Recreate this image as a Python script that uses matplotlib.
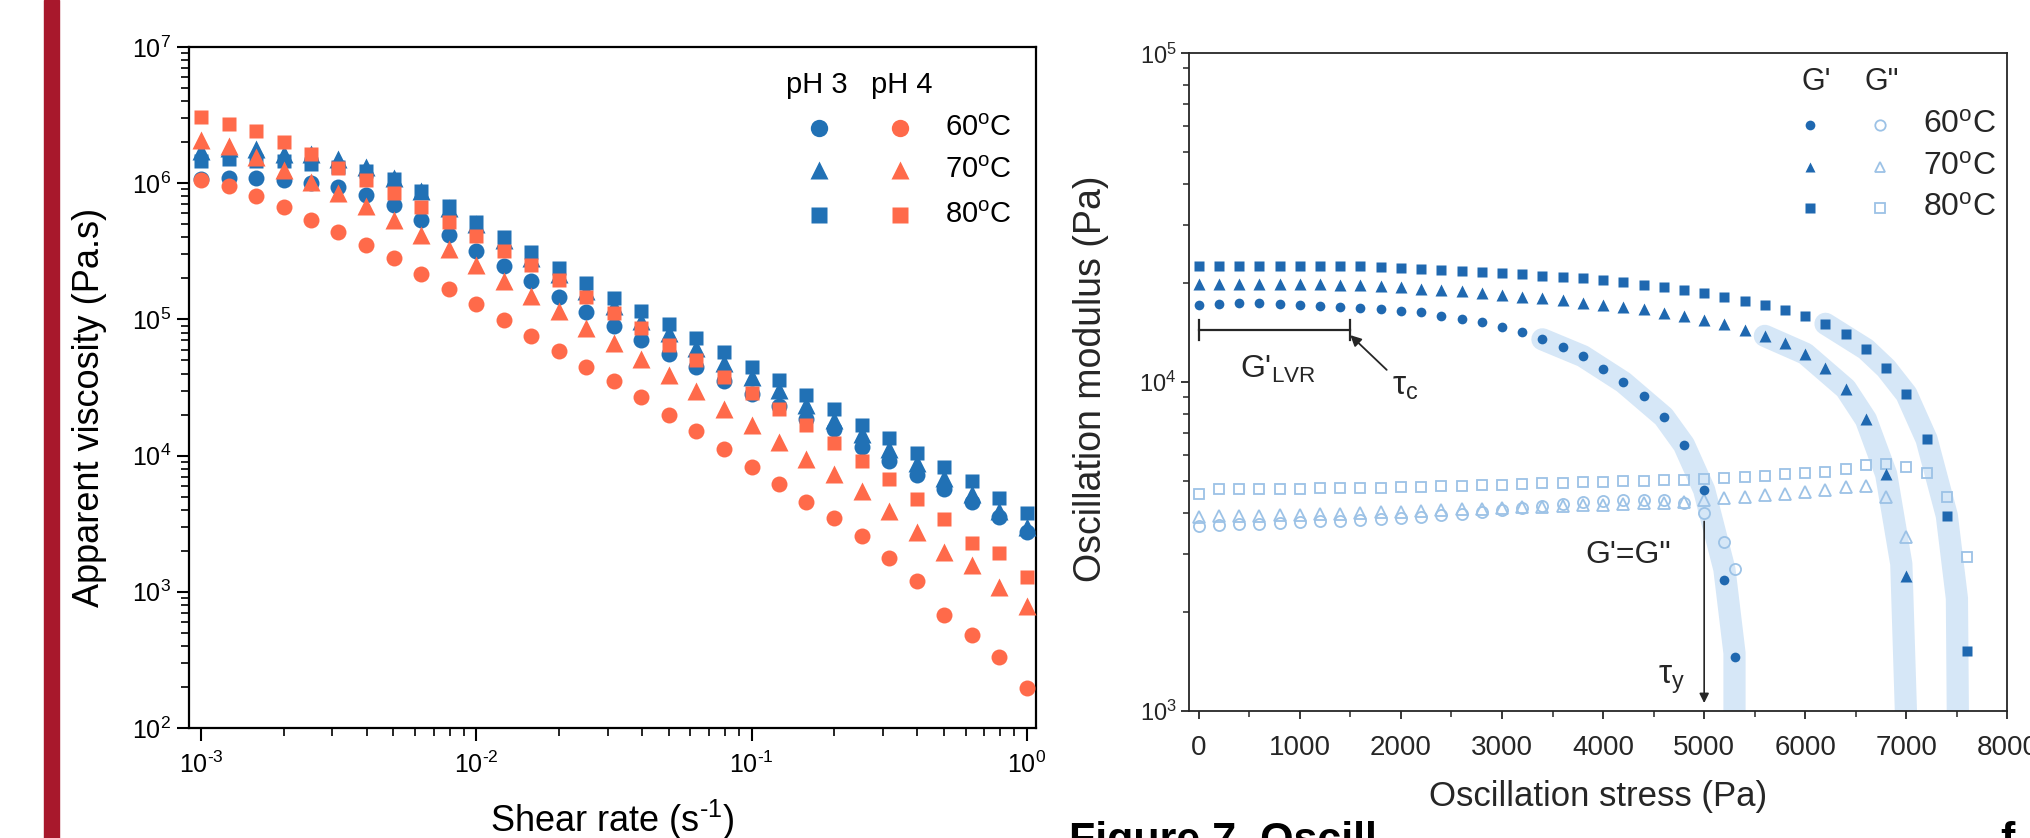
# -*- coding: utf-8 -*-
"""
Viscosidade aparente (esquerda) e varredura de tensao oscilatoria (direita).
"""
import math
import matplotlib
matplotlib.use('Agg')
import matplotlib.pyplot as plt
from matplotlib.patches import Rectangle
from matplotlib.ticker import MultipleLocator, LogLocator, NullFormatter, FuncFormatter

plt.rcParams['font.family'] = ['Liberation Sans', 'DejaVu Sans']
plt.rcParams['mathtext.fontset'] = 'custom'
plt.rcParams['mathtext.rm'] = 'Liberation Sans'
plt.rcParams['mathtext.it'] = 'Liberation Sans:italic'
plt.rcParams['mathtext.bf'] = 'Liberation Sans:bold'

# --- painel esquerdo: viscosidade x taxa de cisalhamento ---
shear_rate = [0.001, 0.00126, 0.00158, 0.002, 0.00251, 0.00316, 0.00398, 0.00501,
              0.00631, 0.00794, 0.01, 0.0126, 0.0158, 0.02, 0.0251, 0.0316, 0.0398,
              0.0501, 0.0631, 0.0794, 0.1, 0.126, 0.158, 0.2, 0.251, 0.316, 0.398,
              0.501, 0.631, 0.794, 1.0]

ph3_60 = [1.07e6, 1.09e6, 1.09e6, 1.05e6, 1.01e6, 9.4e5, 8.2e5, 6.9e5, 5.4e5, 4.2e5,
          3.2e5, 2.47e5, 1.91e5, 1.47e5, 1.14e5, 8.9e4, 7.0e4, 5.6e4, 4.5e4, 3.5e4,
          2.84e4, 2.3e4, 1.87e4, 1.58e4, 1.15e4, 9.1e3, 7.2e3, 5.7e3, 4.55e3, 3.55e3, 2.77e3]
ph3_70 = [1.72e6, 1.8e6, 1.78e6, 1.63e6, 1.63e6, 1.5e6, 1.32e6, 1.1e6, 8.7e5, 6.6e5,
          5.0e5, 3.8e5, 2.84e5, 2.14e5, 1.62e5, 1.25e5, 9.7e4, 8.0e4, 6.2e4, 4.8e4,
          3.8e4, 3.05e4, 2.37e4, 1.83e4, 1.43e4, 1.11e4, 8.8e3, 6.8e3, 5.2e3, 3.9e3, 3.0e3]
ph3_80 = [1.46e6, 1.5e6, 1.45e6, 1.45e6, 1.38e6, 1.32e6, 1.22e6, 1.07e6, 8.8e5, 6.8e5,
          5.2e5, 4.0e5, 3.1e5, 2.4e5, 1.86e5, 1.44e5, 1.15e5, 9.2e4, 7.3e4, 5.8e4,
          4.5e4, 3.6e4, 2.8e4, 2.18e4, 1.69e4, 1.35e4, 1.05e4, 8.3e3, 6.5e3, 4.9e3, 3.8e3]
ph4_60 = [1.06e6, 9.5e5, 8.0e5, 6.7e5, 5.4e5, 4.4e5, 3.5e5, 2.8e5, 2.17e5, 1.67e5,
          1.3e5, 9.9e4, 7.6e4, 5.9e4, 4.5e4, 3.5e4, 2.7e4, 2.0e4, 1.51e4, 1.11e4,
          8.3e3, 6.2e3, 4.6e3, 3.5e3, 2.56e3, 1.77e3, 1.21e3, 6.8e2, 4.8e2, 3.3e2, 1.97e2]
ph4_70 = [2.06e6, 1.88e6, 1.55e6, 1.26e6, 1.02e6, 8.5e5, 6.8e5, 5.4e5, 4.2e5, 3.3e5,
          2.5e5, 1.93e5, 1.49e5, 1.15e5, 8.7e4, 6.7e4, 5.1e4, 3.9e4, 2.96e4, 2.2e4,
          1.67e4, 1.25e4, 9.5e3, 7.3e3, 5.5e3, 3.9e3, 2.75e3, 1.97e3, 1.56e3, 1.08e3, 7.8e2]
ph4_80 = [3.06e6, 2.74e6, 2.42e6, 2.02e6, 1.64e6, 1.3e6, 1.06e6, 8.5e5, 6.7e5, 5.2e5,
          4.1e5, 3.2e5, 2.5e5, 1.95e5, 1.46e5, 1.12e5, 8.6e4, 6.5e4, 5.0e4, 3.8e4,
          2.9e4, 2.2e4, 1.67e4, 1.24e4, 9.1e3, 6.7e3, 4.8e3, 3.4e3, 2.3e3, 1.93e3, 1.28e3]

# --- painel direito: modulo x tensao oscilatoria ---
stress_60 = [0, 200, 400, 600, 800, 1000, 1200, 1400, 1600, 1800, 2000, 2200, 2400,
             2600, 2800, 3000, 3200, 3400, 3600, 3800, 4000, 4200, 4400, 4600, 4800,
             5000, 5200, 5300]
stress_70 = [0, 200, 400, 600, 800, 1000, 1200, 1400, 1600, 1800, 2000, 2200, 2400,
             2600, 2800, 3000, 3200, 3400, 3600, 3800, 4000, 4200, 4400, 4600, 4800,
             5000, 5200, 5400, 5600, 5800, 6000, 6200, 6400, 6600, 6800, 7000]
stress_80 = [0, 200, 400, 600, 800, 1000, 1200, 1400, 1600, 1800, 2000, 2200, 2400,
             2600, 2800, 3000, 3200, 3400, 3600, 3800, 4000, 4200, 4400, 4600, 4800,
             5000, 5200, 5400, 5600, 5800, 6000, 6200, 6400, 6600, 6800, 7000, 7200,
             7400, 7600]

g1_60 = [17200, 17300, 17350, 17350, 17300, 17200, 17000, 16950, 16800, 16700, 16500,
         16300, 15900, 15600, 15270, 14700, 14200, 13500, 12800, 12000, 11000, 10000,
         9050, 7850, 6450, 4700, 2500, 1460]
g1_70 = [19950, 19950, 19950, 19950, 19950, 19950, 19880, 19800, 19730, 19580, 19440,
         19230, 19010, 18870, 18670, 18460, 18200, 17980, 17730, 17470, 17220, 16970,
         16650, 16280, 15890, 15430, 14980, 14380, 13830, 13150, 12210, 11020, 9560,
         7700, 5250, 2570]
g1_80 = [22600, 22600, 22600, 22600, 22600, 22600, 22600, 22600, 22540, 22380, 22300,
         22130, 21970, 21720, 21560, 21480, 21320, 21080, 20930, 20700, 20400, 20100,
         19740, 19440, 19080, 18670, 18200, 17600, 17140, 16520, 15900, 15050, 14000,
         12600, 11020, 9200, 6700, 3930, 1520]
g2_60 = [3650, 3680, 3700, 3710, 3730, 3750, 3770, 3790, 3810, 3840, 3870, 3900, 3940,
         3980, 4030, 4080, 4140, 4200, 4260, 4310, 4350, 4380, 4390, 4370, 4300, 3990,
         3270, 2700]
g2_70 = [3900, 3910, 3920, 3930, 3940, 3950, 3960, 3980, 4000, 4020, 4040, 4060, 4080,
         4100, 4120, 4140, 4160, 4180, 4200, 4220, 4240, 4260, 4280, 4290, 4310, 4390,
         4430, 4480, 4530, 4580, 4620, 4700, 4800, 4830, 4480, 3380]
g2_80 = [4560, 4720, 4730, 4730, 4740, 4740, 4750, 4760, 4770, 4780, 4790, 4800, 4820,
         4840, 4860, 4880, 4900, 4920, 4940, 4960, 4980, 5000, 5020, 5030, 5040, 5070,
         5110, 5150, 5200, 5240, 5280, 5330, 5450, 5600, 5640, 5530, 5290, 4470, 2940]

# faixas azuis claras (guias de queda)
band60_x = [3400, 3800, 4200, 4600, 4800, 5000, 5200, 5300, 5300]
band60_y = [13500, 12000, 10000, 7850, 6450, 4700, 2700, 1500, 900]
band70_x = [5600, 6000, 6400, 6600, 6800, 6950, 7000]
band70_y = [13830, 12210, 9560, 7700, 5250, 2800, 900]
band80_x = [6200, 6600, 6800, 7000, 7200, 7400, 7500, 7510]
band80_y = [15050, 12600, 11020, 9200, 6700, 3930, 2200, 900]

temps = ['60$^\\mathrm{o}$C', '70$^\\mathrm{o}$C', '80$^\\mathrm{o}$C']

AZUL = '#2171b5'
LARANJA = '#ff6a4a'
AZUL_G1 = '#1f68b0'
AZUL_G2 = '#9cc2e6'
FAIXA = '#cfe3f6'
CINZA = '#262626'


def pot10(v, pos):
    # rotulo 10^n com hifen curto no expoente, como no original
    e = int(round(math.log10(v)))
    if e < 0:
        return '10$^{\\text{-}%d}$' % (-e)
    return '10$^{%d}$' % e


fig = plt.figure(figsize=(20.3, 8.38), dpi=100)

# barra vermelha da esquerda
fig.patches.append(Rectangle((43.5 / 2030, 0), 15 / 2030, 1, transform=fig.transFigure,
                             color='#a8182c', zorder=0))

# ================= painel esquerdo =================
ax1 = fig.add_axes([0.0933, 0.1313, 0.417, 0.8126])
ax1.set_xscale('log')
ax1.set_yscale('log')

marcadores = ['o', '^', 's']
tamanhos = [11.5, 12.5, 10.5]
for serie, m, ms in zip([ph3_60, ph3_70, ph3_80], marcadores, tamanhos):
    ax1.plot(shear_rate, serie, linestyle='none', marker=m, ms=ms, color=AZUL,
             mec='none', zorder=3)
for serie, m, ms in zip([ph4_60, ph4_70, ph4_80], marcadores, tamanhos):
    ax1.plot(shear_rate, serie, linestyle='none', marker=m, ms=ms, color=LARANJA,
             mec='none', zorder=4)

ax1.set_xlim(9.08e-4, 1.079)
ax1.set_ylim(1e2, 1e7)
ax1.yaxis.set_major_locator(LogLocator(base=10, numticks=10))
ax1.yaxis.set_minor_locator(LogLocator(base=10, subs=range(2, 10), numticks=100))
ax1.yaxis.set_minor_formatter(NullFormatter())
ax1.xaxis.set_minor_formatter(NullFormatter())
ax1.xaxis.set_major_formatter(FuncFormatter(pot10))
ax1.yaxis.set_major_formatter(FuncFormatter(pot10))
ax1.tick_params(which='major', direction='out', length=9, width=1.5, labelsize=18,
                colors='black')
ax1.tick_params(axis='x', which='major', pad=8)
ax1.tick_params(axis='y', which='major', pad=4)
ax1.tick_params(which='minor', direction='out', length=5.5, width=1.2)
for sp in ax1.spines.values():
    sp.set_linewidth(1.6)

ax1.set_ylabel('Apparent viscosity (Pa.s)', fontsize=26)
ax1.yaxis.set_label_coords(-0.0975, 0.47)
ax1.set_xlabel('Shear rate (s$^{\\text{-}1}$)', fontsize=26)
ax1.xaxis.label.set_verticalalignment('baseline')
ax1.xaxis.set_label_coords(0.5, -0.1527)

# legenda montada a mao (duas colunas de simbolos)
ax1.text(0.741, 0.944, 'pH 3', transform=ax1.transAxes, fontsize=21,
         ha='center', va='center')
ax1.text(0.842, 0.944, 'pH 4', transform=ax1.transAxes, fontsize=21,
         ha='center', va='center')
linhas_leg = [0.881, 0.819, 0.753]
for yl, m, ms, t in zip(linhas_leg, marcadores, [12.5, 13.5, 11], temps):
    ax1.plot([0.744], [yl], marker=m, ms=ms, color=AZUL, mec='none',
             transform=ax1.transAxes, clip_on=False)
    ax1.plot([0.839], [yl], marker=m, ms=ms, color=LARANJA, mec='none',
             transform=ax1.transAxes, clip_on=False)
    ax1.text(0.8925, yl, t, transform=ax1.transAxes, fontsize=21,
             ha='left', va='center')

# ================= painel direito =================
ax2 = fig.add_axes([0.5857, 0.1516, 0.4032, 0.7847])
ax2.set_yscale('log')

for bx, by in [(band60_x, band60_y), (band70_x, band70_y), (band80_x, band80_y)]:
    ax2.plot(bx, by, color=FAIXA, lw=16, solid_capstyle='round',
             solid_joinstyle='round', alpha=0.85, zorder=1)

ax2.plot(stress_60, g2_60, linestyle='none', marker='o', ms=8, mfc='none',
         mec=AZUL_G2, mew=1.3, zorder=2)
ax2.plot(stress_70, g2_70, linestyle='none', marker='^', ms=8.5, mfc='none',
         mec=AZUL_G2, mew=1.3, zorder=2)
ax2.plot(stress_80, g2_80, linestyle='none', marker='s', ms=7.5, mfc='none',
         mec=AZUL_G2, mew=1.3, zorder=2)
ax2.plot(stress_60, g1_60, linestyle='none', marker='o', ms=7, color=AZUL_G1,
         mec='none', zorder=3)
ax2.plot(stress_70, g1_70, linestyle='none', marker='^', ms=8, color=AZUL_G1,
         mec='none', zorder=3)
ax2.plot(stress_80, g1_80, linestyle='none', marker='s', ms=6.5, color=AZUL_G1,
         mec='none', zorder=3)

ax2.set_xlim(-96, 8000)
ax2.set_ylim(1e3, 1e5)
ax2.xaxis.set_major_locator(MultipleLocator(1000))
ax2.xaxis.set_minor_locator(MultipleLocator(500))
ax2.yaxis.set_minor_locator(LogLocator(base=10, subs=range(2, 10), numticks=100))
ax2.yaxis.set_minor_formatter(NullFormatter())
ax2.yaxis.set_major_formatter(FuncFormatter(pot10))
ax2.tick_params(which='major', direction='out', length=6, width=1.3, colors=CINZA)
ax2.tick_params(axis='x', which='major', labelsize=20, pad=11)
ax2.tick_params(axis='y', which='major', labelsize=17, pad=3)
ax2.tick_params(which='minor', direction='out', length=4, width=1.1, colors=CINZA)
for sp in ax2.spines.values():
    sp.set_linewidth(1.3)
    sp.set_color(CINZA)

ax2.set_ylabel('Oscillation modulus (Pa)', fontsize=27, color=CINZA)
ax2.yaxis.set_label_coords(-0.098, 0.505)
ax2.set_xlabel('Oscillation stress (Pa)', fontsize=25, color=CINZA)
ax2.xaxis.label.set_verticalalignment('baseline')
ax2.xaxis.set_label_coords(0.5, -0.1445)

# anotacoes
LVR_Y = 14420
ax2.plot([0, 1500], [LVR_Y, LVR_Y], color=CINZA, lw=1.6, zorder=4)
ax2.plot([0, 0], [LVR_Y / 1.075, LVR_Y * 1.075], color=CINZA, lw=1.6, zorder=4)
ax2.plot([1500, 1500], [LVR_Y / 1.075, LVR_Y * 1.075], color=CINZA, lw=1.6, zorder=4)
ax2.text(785, 10900, "G'$_\\mathrm{LVR}$", fontsize=23, color=CINZA,
         ha='center', va='center')
ax2.annotate('', xy=(1500, 13900), xytext=(1860, 10900),
             arrowprops=dict(arrowstyle='-|>', lw=1.3, color=CINZA,
                             mutation_scale=16, shrinkA=0, shrinkB=0))
ax2.text(2040, 9700, '$\\mathrm{\\tau_c}$', fontsize=24, color=CINZA,
         ha='center', va='center')

ax2.text(4250, 2990, 'G\'=G"', fontsize=23, color=CINZA, ha='center', va='center')
ax2.annotate('', xy=(5000, 1057), xytext=(5000, 3770),
             arrowprops=dict(arrowstyle='-|>', lw=1.2, color=CINZA,
                             mutation_scale=14, shrinkA=0, shrinkB=0))
ax2.text(4677, 1240, '$\\mathrm{\\tau_y}$', fontsize=24, color=CINZA,
         ha='center', va='center')

# legenda do painel direito
ax2.text(0.7668, 0.957, "G'", transform=ax2.transAxes, fontsize=22, color=CINZA,
         ha='center', va='center')
ax2.text(0.8462, 0.957, 'G"', transform=ax2.transAxes, fontsize=22, color=CINZA,
         ha='center', va='center')
linhas_leg2 = [0.8911, 0.8277, 0.7644]
for yl, m, t in zip(linhas_leg2, marcadores, temps):
    ax2.plot([0.7587], [yl], marker=m, ms=7, color=AZUL_G1, mec='none',
             transform=ax2.transAxes, clip_on=False)
    ax2.plot([0.8442], [yl], marker=m, ms=7.5, mfc='none', mec=AZUL_G2, mew=1.3,
             transform=ax2.transAxes, clip_on=False)
    ax2.text(0.897, yl, t, transform=ax2.transAxes, fontsize=23, color=CINZA,
             ha='left', va='center')

# legenda da figura cortada na borda inferior
fig.text(1069 / 2030, -0.017, 'Figure 7. Oscill', fontsize=31, fontweight='bold',
         ha='left', va='baseline')
fig.text(2000 / 2030, -0.017, 'f', fontsize=31, fontweight='bold',
         ha='left', va='baseline')

fig.savefig('out.png', dpi=100)
